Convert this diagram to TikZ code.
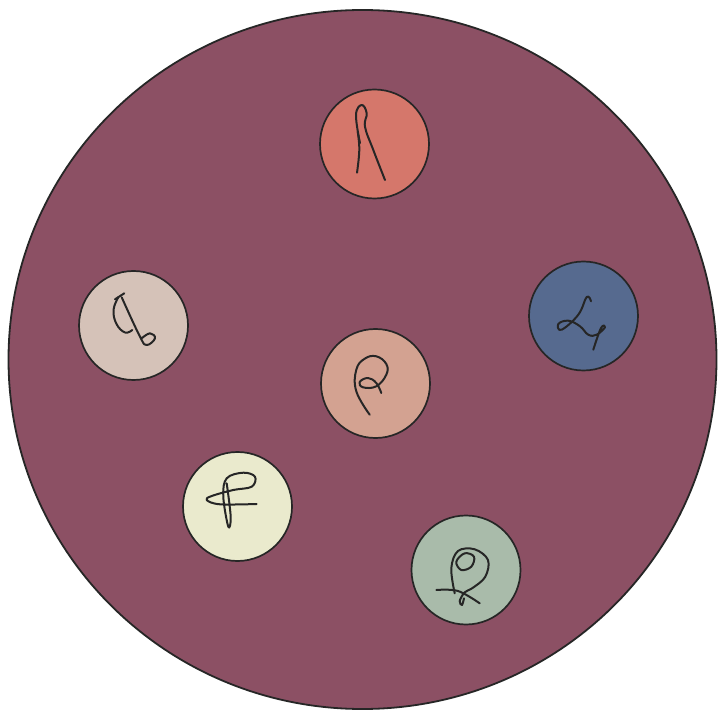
\documentclass[tikz,border=0pt]{standalone}
\usepackage{tikz}

\definecolor{plum}{HTML}{8C5064}
\definecolor{salmon}{HTML}{D5776B}
\definecolor{sand}{HTML}{D5C2B8}
\definecolor{slate}{HTML}{566A8F}
\definecolor{peach}{HTML}{D3A291}
\definecolor{cream}{HTML}{EAEACD}
\definecolor{sage}{HTML}{A9BBAA}
\definecolor{ink}{HTML}{262626}

\begin{document}
\begin{tikzpicture}[
  x=1pt,y=-1pt,
  bigdisc/.style={draw=ink,fill=plum,line width=1.8pt},
  disc/.style={circle,draw=ink,line width=1.7pt,minimum size=109pt,inner sep=0pt},
  scribble/.style={draw=ink,line width=2pt,line cap=round,line join=round}
]
  \useasboundingbox (0,0) rectangle (718,711);
  \draw[bigdisc] (362.5,359.5) ellipse [x radius=354, y radius=349.5];

  \node[disc,fill=salmon] (top) at (374.5,144) {};
  \node[disc,fill=sand] (left) at (133.5,325.5) {};
  \node[disc,fill=slate] (right) at (583.5,316) {};
  \node[disc,fill=peach] (mid) at (375.5,383.5) {};
  \node[disc,fill=cream] (lowleft) at (237.5,506.5) {};
  \node[disc,fill=sage] (lowright) at (466,570) {};

  % scribbles inside the discs
  \draw[scribble] plot[smooth,tension=0.7] coordinates {(357,172.7) (359.3,150) (357.7,131.7)};
  \draw[scribble] plot[smooth,tension=0.7] coordinates {(360,143) (356,115) (361.7,105) (366.7,113.3) (365,126.7) (373.3,150) (385,180)};

  \draw[scribble] (115,299.3) -- (124.3,293.3);
  \draw[scribble] plot[smooth,tension=0.7] coordinates {(118.3,297.3) (113.5,310) (116.5,324) (125,332.5) (132.3,330)};
  \draw[scribble] plot[smooth,tension=0.7] coordinates {(121.7,297.3) (140,336.7) (146.7,345) (155,338.3) (150,333.3) (141.7,338.3)};

  \draw[scribble] plot[smooth,tension=0.7] coordinates {(591,301.3) (586.7,297) (578.3,314.7) (561.7,329.7) (558.3,324) (568.3,320.7) (580,326.3) (588.3,334.7) (596.7,334.7) (605,327.3) (601,328) (593.3,349.7)};

  \draw[scribble] plot[smooth,tension=0.7] coordinates {(369.7,414.7) (356.3,391.3) (356.3,369.7) (364.7,358.7) (376.3,356.3) (386.3,364) (386.3,374.7) (376.3,386.3) (363,387.3) (359.7,382) (368,378) (376.3,383) (381.3,393)};

  \draw[scribble] plot[smooth,tension=0.6] coordinates {(256.7,504) (220,504.3) (206.7,500) (211.7,496) (233.3,490) (251.7,486.7) (255,476.7) (243.3,472.7) (226.7,478.3) (223.3,496.7) (228.3,526.7) (230.7,516.7) (226.7,483.3)};

  \draw[scribble] plot[smooth,tension=0.6] coordinates {(436.3,590) (458,591) (479.7,603.3)};
  \draw[scribble] plot[smooth,tension=0.6] coordinates {(454.7,593.3) (451.3,568.3) (458,551) (474.7,549.3) (488,560) (485.3,576.7) (473,587.7) (464.7,592.3) (459.7,601) (462,605) (464,598.3)};
  \draw[scribble] plot[smooth cycle,tension=0.6] coordinates {(456.3,561.7) (464.7,553.3) (474,556.7) (471.3,566.7) (461.3,570)};
\end{tikzpicture}
\end{document}
